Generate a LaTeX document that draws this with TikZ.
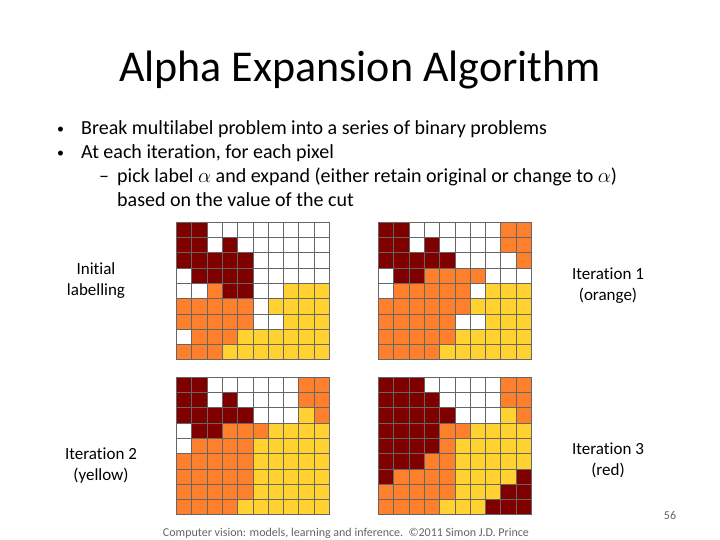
\documentclass[tikz,border=0pt]{standalone}
\usepackage{fontspec}
\setmainfont{Carlito}[RawFeature={-liga}]
\definecolor{cR}{RGB}{128,0,0}
\definecolor{cO}{RGB}{255,128,44}
\definecolor{cY}{RGB}{255,210,50}
\definecolor{cW}{RGB}{255,255,255}
\definecolor{footgray}{RGB}{100,100,100}
\newcommand{\pixgrid}[3]{%
  \foreach \prow [count=\i from 0] in {#3} {
    \foreach \c [count=\j from 0] in \prow {
      \path[cellbox, fill=c\c] (#1+\j*15.28, #2+\i*15.3) rectangle ++(15.28,15.3);
    }
  }
}
\begin{document}
\begin{tikzpicture}[x=1pt,y=-1pt,
  cellbox/.style={draw=black!60, line width=0.6pt},
  lbl/.style={align=center, font=\fontsize{17}{21}\selectfont, inner sep=0pt},
  bul/.style={anchor=base west, font=\fontsize{20}{24}\selectfont, inner sep=0pt},
  dot/.style={anchor=base west, font=\fontsize{14}{16}\selectfont, inner sep=0pt}]
\useasboundingbox (0,0) rectangle (720,540);
\fill[white] (0,0) rectangle (720,540);
\node[anchor=base, font=\fontsize{44}{52}\selectfont, inner sep=0pt] (title) at (360,82) {Alpha Expansion Algorithm};
\node[dot] (b1d) at (57,134) {•};
\node[bul] (b1) at (81,135) {Break multilabel problem into a series of binary problems};
\node[dot] (b2d) at (57,158) {•};
\node[bul] (b2) at (81,159) {At each iteration, for each pixel};
\node[bul] (b3d) at (99,183) {–};
\node[bul] (b3) at (117,183) {pick label $\alpha$ and expand (either retain original or change to $\alpha$)};
\node[bul] (b4) at (117,207) {based on the value of the cut};
\pixgrid{176.5}{222}{{R,R,W,W,W,W,W,W,W,W},{R,R,W,R,W,W,W,W,W,W},{R,R,R,R,R,W,W,W,W,W},{W,R,R,R,R,W,W,W,W,W},{W,W,O,R,R,W,W,Y,Y,Y},{O,O,O,O,O,W,Y,Y,Y,Y},{O,O,O,O,O,W,W,Y,Y,Y},{W,O,O,O,Y,Y,Y,Y,Y,Y},{O,O,O,Y,Y,Y,Y,Y,Y,Y}}
\pixgrid{378.5}{222}{{R,R,W,W,W,W,W,W,O,O},{R,R,W,R,W,W,W,W,O,O},{R,R,R,R,R,W,W,W,W,O},{W,R,R,O,O,O,O,W,W,W},{W,O,O,O,O,O,W,Y,Y,Y},{O,O,O,O,O,O,Y,Y,Y,Y},{O,O,O,O,O,W,W,Y,Y,Y},{O,O,O,O,O,Y,Y,Y,Y,Y},{O,O,O,O,Y,Y,Y,Y,Y,Y}}
\pixgrid{176.5}{377}{{R,R,W,W,W,W,W,W,O,O},{R,R,W,R,W,W,W,W,O,O},{R,R,R,R,R,W,W,W,Y,O},{W,R,R,O,O,O,Y,Y,Y,Y},{W,O,O,O,O,Y,Y,Y,Y,Y},{O,O,O,O,O,Y,Y,Y,Y,Y},{O,O,O,O,O,Y,Y,Y,Y,Y},{O,O,O,O,O,Y,Y,Y,Y,Y},{O,O,O,O,Y,Y,Y,Y,Y,Y}}
\pixgrid{378.5}{377}{{R,R,R,W,W,W,W,W,O,O},{R,R,R,R,W,W,W,W,O,O},{R,R,R,R,R,W,W,W,Y,O},{R,R,R,R,O,O,Y,Y,Y,Y},{R,R,R,R,O,Y,Y,Y,Y,Y},{R,R,R,O,O,Y,Y,Y,Y,Y},{R,O,O,O,O,Y,Y,Y,Y,R},{O,O,O,O,O,Y,Y,Y,R,R},{O,O,O,O,Y,Y,Y,R,R,R}}
\node[lbl] (l1) at (96,281) {Initial\\labelling};
\node[lbl] (l2) at (608,286) {Iteration 1\\(orange)};
\node[lbl] (l3) at (101,466) {Iteration 2\\(yellow)};
\node[lbl] (l4) at (608,460) {Iteration 3\\(red)};
\node[anchor=base, font=\fontsize{12}{14}\selectfont, text=footgray, inner sep=0pt] (foot) at (346,536) {Computer vision: models, learning and inference.\ \ ©2011 Simon J.D. Prince};
\node[anchor=base, font=\fontsize{12}{14}\selectfont, text=footgray, inner sep=0pt] (pg) at (670,519) {56};
\end{tikzpicture}
\end{document}
